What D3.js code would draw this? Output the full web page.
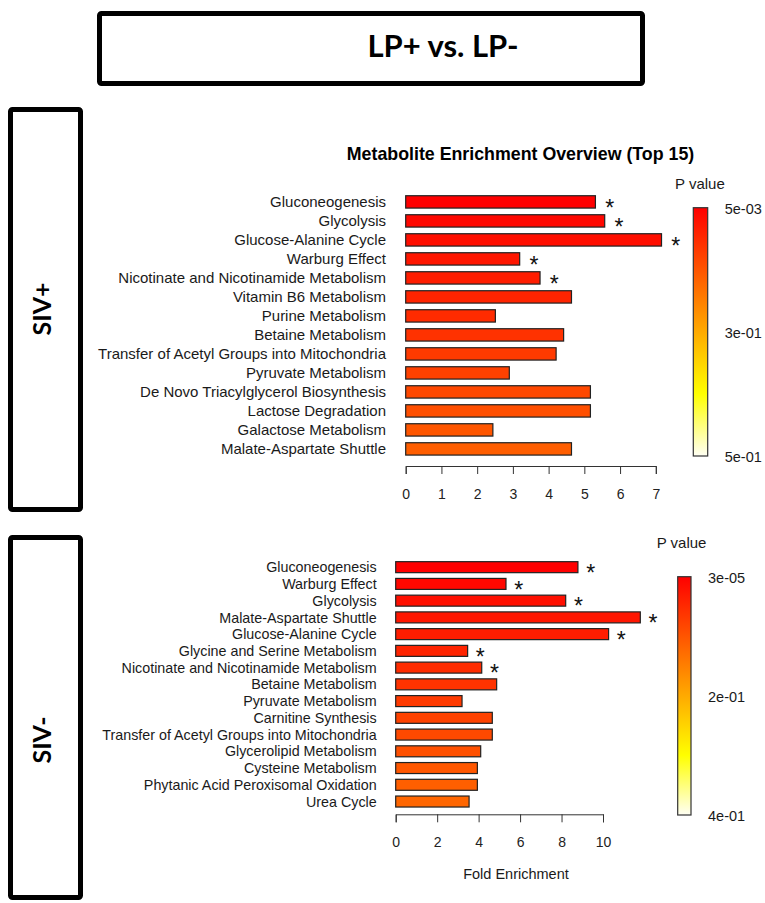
<!DOCTYPE html>
<html>
<head>
<meta charset="utf-8">
<title>LP+ vs. LP-</title>
<script src="https://cdn.jsdelivr.net/npm/d3@7/dist/d3.min.js"></script>
<style>
    body { margin: 0; background: #fff; }
    svg { display: block; font-family: "Liberation Sans", Arial, sans-serif; }
    .box { fill: none; stroke: #000; stroke-width: 5; }
    .big-label { font-family: Lato, "Open Sans", sans-serif; font-weight: 700; fill: #000; }
    .axis path, .axis line { stroke: #333; }
    .axis text { fill: #222; }
</style>
</head>
<body>
<div id="chart-area"></div>
<script>

// ---- data: SIV+ panel ----
let posLabels = ["Gluconeogenesis", "Glycolysis", "Glucose-Alanine Cycle", "Warburg Effect",
    "Nicotinate and Nicotinamide Metabolism", "Vitamin B6 Metabolism", "Purine Metabolism",
    "Betaine Metabolism", "Transfer of Acetyl Groups into Mitochondria", "Pyruvate Metabolism",
    "De Novo Triacylglycerol Biosynthesis", "Lactose Degradation", "Galactose Metabolism",
    "Malate-Aspartate Shuttle"];
let posFold = [5.31, 5.57, 7.16, 3.19, 3.76, 4.64, 2.51, 4.42, 4.21, 2.90, 5.17, 5.17, 2.44, 4.64];
let posSignif = [true, true, true, true, true, false, false, false, false, false, false, false, false, false];
let posTicks = [0, 1, 2, 3, 4, 5, 6, 7];
let posPLabels = ["5e-03", "3e-01", "5e-01"];

// ---- data: SIV- panel ----
let negLabels = ["Gluconeogenesis", "Warburg Effect", "Glycolysis", "Malate-Aspartate Shuttle",
    "Glucose-Alanine Cycle", "Glycine and Serine Metabolism", "Nicotinate and Nicotinamide Metabolism",
    "Betaine Metabolism", "Pyruvate Metabolism", "Carnitine Synthesis",
    "Transfer of Acetyl Groups into Mitochondria", "Glycerolipid Metabolism", "Cysteine Metabolism",
    "Phytanic Acid Peroxisomal Oxidation", "Urea Cycle"];
let negFold = [8.79, 5.32, 8.20, 11.80, 10.27, 3.47, 4.15, 4.87, 3.20, 4.66, 4.66, 4.10, 3.94, 3.94, 3.54];
let negSignif = [true, true, true, true, true, true, true, false, false, false, false, false, false, false, false];
let negTicks = [0, 2, 4, 6, 8, 10];
let negPLabels = ["3e-05", "2e-01", "4e-01"];

let panelTitle = "Metabolite Enrichment Overview (Top 15)";
let xTitle = "Fold Enrichment";


// heat colours: red -> yellow over first 3/4, yellow -> white over last 1/4
function heatColor(t) {
    if (t <= 0.75) return d3.hsl(60 * t / 0.75, 1, 0.5).formatHex();
    return d3.interpolateRgb("#ffff00", "#fffff4")((t - 0.75) / 0.25);
}


class EnrichmentVis {

    constructor(_svg, _labels, _fold, _signif, _ticks, _pLabels, _cfg) {
        this.svg = _svg;
        this.labels = _labels;
        this.fold = _fold;
        this.signif = _signif;
        this.ticks = _ticks;
        this.pLabels = _pLabels;
        this.cfg = _cfg;

        this.initVis();
    }

    initVis() {
        let vis = this;
        let c = vis.cfg;

        vis.data = vis.labels.map((d, i) => ({label: d, fold: vis.fold[i], signif: vis.signif[i], rank: i}));

        vis.g = vis.svg.append("g").attr("id", c.id);

        // scales
        vis.x = d3.scaleLinear()
            .domain(d3.extent(vis.ticks))
            .range([c.x0, c.x1]);

        vis.y = d3.scaleBand()
            .domain(vis.labels)
            .range([c.y0, c.y0 + c.step * vis.labels.length])
            .paddingInner(c.pad)
            .paddingOuter(c.pad / 2);

        vis.hue = d3.scaleLinear()
            .domain([0, vis.labels.length - 1])
            .range([0, c.hueMax]);

        // gradient for the p value legend
        let grad = vis.svg.append("defs").append("linearGradient")
            .attr("id", c.id + "-grad")
            .attr("x1", 0).attr("y1", 0).attr("x2", 0).attr("y2", 1);
        grad.selectAll("stop")
            .data(d3.range(0, 1.0001, 0.05))
            .enter().append("stop")
            .attr("offset", d => d)
            .attr("stop-color", d => heatColor(d));

        vis.updateVis();
    }

    updateVis() {
        let vis = this;
        let c = vis.cfg;

        // bars
        vis.g.selectAll("rect.bar")
            .data(vis.data)
            .enter().append("rect")
            .attr("class", "bar")
            .attr("x", vis.x(0))
            .attr("y", d => vis.y(d.label))
            .attr("width", d => vis.x(d.fold) - vis.x(0))
            .attr("height", vis.y.bandwidth())
            .attr("fill", d => d3.hsl(vis.hue(d.rank), 1, 0.5).formatHex())
            .attr("stroke", "#222")
            .attr("stroke-width", 1.2);

        // category labels
        vis.g.selectAll("text.cat")
            .data(vis.data)
            .enter().append("text")
            .attr("class", "cat")
            .attr("x", vis.x(0) - c.labelGap)
            .attr("y", d => vis.y(d.label) + vis.y.bandwidth() / 2)
            .attr("dy", "0.36em")
            .attr("text-anchor", "end")
            .style("font-size", c.labelSize + "px")
            .attr("fill", "#1a1a1a")
            .text(d => d.label);

        // significance stars
        vis.g.selectAll("text.star")
            .data(vis.data.filter(d => d.signif))
            .enter().append("text")
            .attr("class", "star")
            .attr("x", d => vis.x(d.fold) + c.starGap)
            .attr("y", d => vis.y(d.label) + vis.y.bandwidth() / 2)
            .attr("dy", "0.6em")
            .attr("text-anchor", "middle")
            .style("font-size", "23px")
            .attr("fill", "#111")
            .text("*");

        // x axis
        vis.g.append("g")
            .attr("class", "axis")
            .attr("transform", `translate(0, ${c.axisY})`)
            .call(d3.axisBottom(vis.x)
                .tickValues(vis.ticks)
                .tickFormat(d3.format("d"))
                .tickSize(8).tickSizeOuter(8)
                .tickPadding(c.tickPad))
            .call(g => g.selectAll("text").style("font-size", "14px"));
        vis.g.selectAll(".axis").attr("font-family", null).attr("font-size", null);

        // p value colour legend
        vis.g.append("rect")
            .attr("x", c.legX)
            .attr("y", c.legY0)
            .attr("width", c.legW)
            .attr("height", c.legY1 - c.legY0)
            .attr("fill", `url(#${c.id}-grad)`)
            .attr("stroke", "#333")
            .attr("stroke-width", 1.2);

        let legScale = d3.scalePoint()
            .domain(vis.pLabels)
            .range([c.legY0, c.legY1]);

        vis.g.selectAll("text.plab")
            .data(vis.pLabels)
            .enter().append("text")
            .attr("class", "plab")
            .attr("x", c.legX + c.legW + 17)
            .attr("y", d => legScale(d) + 1)
            .attr("dy", "0.36em")
            .style("font-size", "14.5px")
            .attr("fill", "#1a1a1a")
            .text(d => d);

        vis.g.append("text")
            .attr("x", c.pvX)
            .attr("y", c.pvY)
            .attr("dy", "0.36em")
            .style("font-size", "15px")
            .attr("fill", "#1a1a1a")
            .text("P value");

        if (c.title) {
            vis.g.append("text")
                .attr("x", c.titleX)
                .attr("y", c.titleY)
                .attr("text-anchor", "middle")
                .style("font-size", "17.8px")
                .style("font-weight", "bold")
                .attr("fill", "#000")
                .text(panelTitle);
        }

        if (c.xTitle) {
            vis.g.append("text")
                .attr("x", c.xTitleX)
                .attr("y", c.xTitleY)
                .attr("dy", "0.36em")
                .attr("text-anchor", "middle")
                .style("font-size", "14.5px")
                .attr("fill", "#1a1a1a")
                .text(xTitle);
        }
    }
}


// ---- page ----
let svg = d3.select("#chart-area").append("svg")
    .attr("width", 765)
    .attr("height", 903);

// framed headings
svg.append("rect").attr("class", "box")
    .attr("x", 99.5).attr("y", 13.5).attr("width", 543).attr("height", 70).attr("rx", 2);
svg.append("text").attr("class", "big-label")
    .attr("x", 443).attr("y", 57)
    .attr("text-anchor", "middle")
    .style("font-size", "31px")
    .text("LP+ vs. LP-");

svg.append("rect").attr("class", "box")
    .attr("x", 10.5).attr("y", 109.5).attr("width", 70).attr("height", 400).attr("rx", 2);
svg.append("text").attr("class", "big-label")
    .attr("transform", "translate(42, 309) rotate(-90)")
    .attr("dy", "0.36em")
    .attr("text-anchor", "middle")
    .style("font-size", "25px")
    .text("SIV+");

svg.append("rect").attr("class", "box")
    .attr("x", 10.5).attr("y", 537.5).attr("width", 70).attr("height", 360).attr("rx", 2);
svg.append("text").attr("class", "big-label")
    .attr("transform", "translate(42, 740) rotate(-90)")
    .attr("dy", "0.36em")
    .attr("text-anchor", "middle")
    .style("font-size", "25px")
    .text("SIV-");

let posVis = new EnrichmentVis(svg, posLabels, posFold, posSignif, posTicks, posPLabels, {
    id: "siv-pos",
    x0: 405.7, x1: 655.8,
    y0: 192.4, step: 19, pad: 0.35,
    hueMax: 22, labelGap: 19.7, labelSize: 15, starGap: 14.3,
    axisY: 466, tickPad: 15,
    legX: 693.3, legW: 14.4, legY0: 207.7, legY1: 456,
    pvX: 675, pvY: 183.5,
    title: true, titleX: 520.5, titleY: 159.5
});

let negVis = new EnrichmentVis(svg, negLabels, negFold, negSignif, negTicks, negPLabels, {
    id: "siv-neg",
    x0: 395.7, x1: 603,
    y0: 558.8, step: 16.74, pad: 0.343,
    hueMax: 24, labelGap: 19, labelSize: 14.3, starGap: 12.7,
    axisY: 814.3, tickPad: 14.4,
    legX: 677.7, legW: 13.3, legY0: 576.7, legY1: 815,
    pvX: 656.7, pvY: 542.7,
    title: false,
    xTitle: true, xTitleX: 516, xTitleY: 873.5
});

</script>
</body>
</html>
